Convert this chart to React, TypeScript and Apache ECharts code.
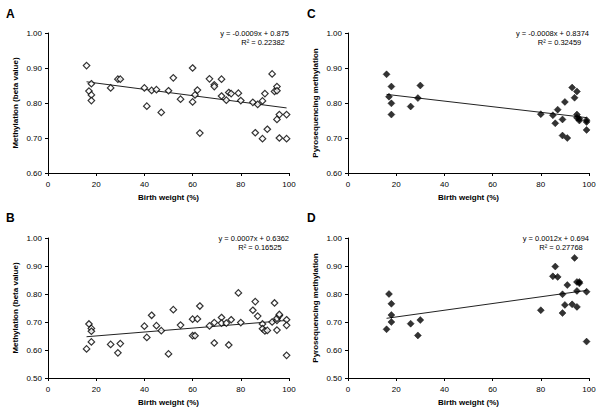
import React, { useEffect, useRef } from "react";
import * as echarts from "echarts";

// Panel A: array methylation vs birth weight (open diamonds)
const aX = [16, 18, 17, 18, 18, 26, 29, 30, 40, 41, 43, 45, 47, 50, 52, 55, 60, 60, 61, 62, 63, 67, 69, 69, 72, 72, 74, 75, 76, 79, 80, 85, 86, 87, 89, 89, 90, 91, 93, 94, 95, 95, 96, 95, 96, 99, 99];
const aY = [0.907, 0.855, 0.834, 0.823, 0.807, 0.843, 0.868, 0.868, 0.843, 0.791, 0.836, 0.838, 0.773, 0.835, 0.872, 0.811, 0.9, 0.803, 0.823, 0.837, 0.714, 0.869, 0.852, 0.847, 0.868, 0.82, 0.808, 0.83, 0.827, 0.828, 0.807, 0.802, 0.715, 0.796, 0.806, 0.698, 0.827, 0.725, 0.883, 0.833, 0.847, 0.835, 0.767, 0.753, 0.7, 0.767, 0.698];

// Panel B
const bX = [16, 17, 18, 18, 18, 26, 29, 30, 40, 41, 43, 45, 47, 50, 52, 55, 60, 60, 61, 62, 63, 67, 69, 69, 72, 72, 74, 75, 76, 79, 80, 85, 86, 87, 89, 89, 90, 91, 93, 94, 95, 95, 95, 96, 96, 99, 99, 99];
const bY = [0.604, 0.693, 0.677, 0.667, 0.629, 0.62, 0.59, 0.623, 0.685, 0.645, 0.724, 0.687, 0.669, 0.586, 0.744, 0.689, 0.71, 0.651, 0.651, 0.711, 0.757, 0.686, 0.698, 0.625, 0.716, 0.696, 0.696, 0.618, 0.708, 0.804, 0.698, 0.742, 0.773, 0.721, 0.693, 0.676, 0.668, 0.67, 0.7, 0.768, 0.671, 0.706, 0.713, 0.723, 0.727, 0.708, 0.688, 0.581];

// Panel C: pyrosequencing (filled diamonds)
const cX = [16, 17, 18, 18, 18, 26, 29, 30, 80, 85, 86, 87, 89, 89, 90, 91, 93, 94, 95, 95, 95, 96, 96, 99, 99, 99];
const cY = [0.882, 0.818, 0.847, 0.799, 0.767, 0.79, 0.814, 0.85, 0.768, 0.765, 0.742, 0.781, 0.753, 0.707, 0.803, 0.7, 0.844, 0.815, 0.833, 0.767, 0.758, 0.755, 0.75, 0.751, 0.746, 0.723];

// Panel D
const dX = [16, 17, 18, 18, 18, 26, 29, 30, 80, 85, 86, 87, 89, 89, 90, 91, 93, 94, 95, 95, 95, 96, 96, 99, 99];
const dY = [0.674, 0.8, 0.765, 0.725, 0.7, 0.694, 0.652, 0.707, 0.742, 0.863, 0.898, 0.861, 0.799, 0.732, 0.761, 0.832, 0.763, 0.929, 0.811, 0.754, 0.843, 0.843, 0.838, 0.808, 0.63];

// Trendline coefficients (from the chart's equations)
const slopes = [-0.0009, 0.0007, -0.0008, 0.0012];
const intercepts = [0.875, 0.6362, 0.8374, 0.694];
const equations = ["y = -0.0009x + 0.875", "y = 0.0007x + 0.6362", "y = -0.0008x + 0.8374", "y = 0.0012x + 0.694"];
const r2Labels = ["R² = 0.22382", "R² = 0.16525", "R² = 0.32459", "R² = 0.27768"];
const panelLetters = ["A", "B", "C", "D"];
const yTitles = ["Methylation (beta value)", "Methylation (beta value)", "Pyrosequencing methylation", "Pyrosequencing methylation"];
const yMins = [0.6, 0.5, 0.6, 0.5];
const xTitle = "Birth weight (%)";

const FONT = "'Liberation Sans', Arial, sans-serif";

export default function App() {
  const ref = useRef<HTMLDivElement>(null);
  useEffect(() => {
    if (!ref.current) return;
    const chart = echarts.init(ref.current, undefined, { renderer: "svg" });
    const xs = [aX, bX, cX, dX];
    const ys = [aY, bY, cY, dY];
    // layout: A top-left, B bottom-left, C top-right, D bottom-right
    const lefts = [48, 48, 348, 348];
    const tops = [33, 238, 33, 238];
    const grids = lefts.map((l, i) => ({ left: l, top: tops[i], width: 241, height: 140 }));
    const xAxes = grids.map((_, i) => ({
      type: "value",
      gridIndex: i,
      min: 0,
      max: 100,
      interval: 20,
      name: xTitle,
      nameLocation: "middle",
      nameGap: 20,
      nameTextStyle: { fontFamily: FONT, fontWeight: "bold", fontSize: 8, color: "#000" },
      axisLine: { show: true, lineStyle: { color: "#000", width: 1 } },
      axisTick: { show: true, length: 3, lineStyle: { color: "#000" } },
      axisLabel: { fontFamily: FONT, fontSize: 8, color: "#000", margin: 7 },
      splitLine: { show: false },
    }));
    const yAxes = grids.map((_, i) => ({
      type: "value",
      gridIndex: i,
      min: yMins[i],
      max: 1.0,
      interval: 0.1,
      name: yTitles[i],
      nameLocation: "middle",
      nameGap: 29,
      nameTextStyle: { fontFamily: FONT, fontWeight: "bold", fontSize: 8, color: "#000" },
      axisLine: { show: true, lineStyle: { color: "#000", width: 1 } },
      axisTick: { show: true, length: 3, lineStyle: { color: "#000" } },
      axisLabel: { fontFamily: FONT, fontSize: 8, color: "#000", margin: 6, formatter: (v: number) => v.toFixed(2) },
      splitLine: { show: false },
    }));
    const series: any[] = [];
    for (let i = 0; i < 4; i++) {
      const x = xs[i];
      const y = ys[i];
      const open = i < 2;
      const xmin = Math.min(...x);
      const xmax = Math.max(...x);
      series.push({
        type: "line",
        xAxisIndex: i,
        yAxisIndex: i,
        data: [
          [xmin, slopes[i] * xmin + intercepts[i]],
          [xmax, slopes[i] * xmax + intercepts[i]],
        ],
        symbol: "none",
        lineStyle: { color: "#222", width: 1 },
        z: 1,
      });
      series.push({
        type: "scatter",
        xAxisIndex: i,
        yAxisIndex: i,
        data: x.map((v, k) => [v, y[k]]),
        symbol: "diamond",
        symbolSize: open ? 6.5 : 7,
        itemStyle: open
          ? { color: "#fff", borderColor: "#000", borderWidth: 1.2 }
          : { color: "#000", borderColor: "#000", borderWidth: 0.5 },
        z: 2,
      });
    }
    const eqRight = [289, 289, 589, 589];
    const eqTop = [33, 238, 33, 238];
    const r2Center = [263, 260, 559.5, 561];
    const letterPos = [
      [6, 14],
      [6, 217.5],
      [307, 14],
      [307, 217.5],
    ];
    const graphic: any[] = [];
    for (let i = 0; i < 4; i++) {
      graphic.push({
        type: "text",
        x: letterPos[i][0],
        y: letterPos[i][1],
        style: { text: panelLetters[i], fontFamily: FONT, fontWeight: "bold", fontSize: 12, fill: "#000", align: "left", verticalAlign: "middle" },
      });
      graphic.push({
        type: "text",
        x: eqRight[i],
        y: eqTop[i],
        style: { text: equations[i], fontFamily: FONT, fontSize: 7.5, fill: "#000", align: "right", verticalAlign: "middle" },
      });
      graphic.push({
        type: "text",
        x: r2Center[i],
        y: eqTop[i] + 9,
        style: { text: r2Labels[i], fontFamily: FONT, fontSize: 7.5, fill: "#000", align: "center", verticalAlign: "middle" },
      });
    }
    chart.setOption({
      animation: false,
      backgroundColor: "#fff",
      grid: grids,
      xAxis: xAxes,
      yAxis: yAxes,
      series,
      graphic,
    });
    return () => chart.dispose();
  }, []);
  return (
    <div
      ref={ref}
      style={{ position: "absolute", left: 0, top: 0, width: 600, height: 411, background: "#fff" }}
    />
  );
}
